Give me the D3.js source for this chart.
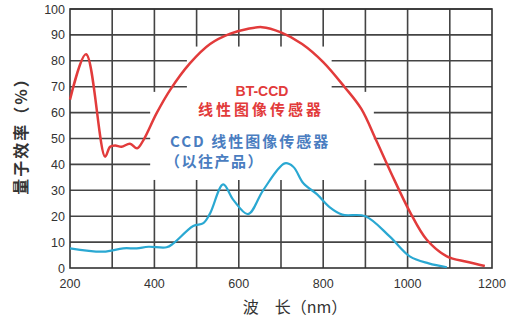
<!DOCTYPE html>
<html>
<head>
<meta charset="utf-8">
<script src="https://d3js.org/d3.v7.min.js"></script>
<style>
  body { margin: 0; background: #fff; }
  text { font-family: "Liberation Sans", Arial, sans-serif; }
</style>
</head>
<body>
<script>
// wavelength (nm) / quantum efficiency (%)
var btWave = [200, 238, 283, 295, 307, 322, 342, 359, 374, 405, 437, 484, 532, 580, 620, 655, 700, 750, 800, 850, 890, 925, 960, 1006, 1045, 1093, 1140, 1183];
var btQe   = [65, 82.5, 43, 46.8, 47.3, 46.8, 48, 46.2, 49.4, 59.7, 68.7, 79, 86.5, 90.5, 92.3, 93, 91, 86.5, 79.5, 70, 61.5, 49.5, 37, 21.5, 11, 4.5, 2.4, 0.8];

var ccdWave = [200, 279, 326, 358, 386, 429, 445, 492, 516, 532, 563, 587, 622, 658, 709, 729, 753, 785, 815, 845, 900, 958, 1006, 1050, 1093];
var ccdQe   = [7.6, 6.3, 7.6, 7.6, 8.2, 8.0, 9.5, 16.2, 17.3, 21.1, 32.3, 26.3, 20.8, 30.1, 40.4, 39.1, 32.7, 28.5, 23.5, 20.6, 20.0, 12.1, 4.4, 1.8, 0.3];

var xTicks = [200, 400, 600, 800, 1000, 1200];
var xGrid = [300, 400, 500, 600, 700, 800, 900, 1000, 1100];
var yTicks = [0, 10, 20, 30, 40, 50, 60, 70, 80, 90, 100];

var width = 518, height = 320;
var margin = {left: 70, right: 26, top: 9, bottom: 52};

var svg = d3.select('body').append('svg')
    .attr('width', width)
    .attr('height', height);

var x = d3.scaleLinear().domain([200, 1200]).range([margin.left, width - margin.right]);
var y = d3.scaleLinear().domain([0, 100]).range([height - margin.bottom, margin.top]);

var gridColor = '#444';

// grid
svg.append('g').selectAll('line.h')
    .data(yTicks.slice(1))
    .enter().append('line')
    .attr('x1', x(200)).attr('x2', x(1200))
    .attr('y1', function(d) { return y(d); })
    .attr('y2', function(d) { return y(d); })
    .attr('stroke', gridColor).attr('stroke-width', 1.6);

svg.append('g').selectAll('line.v')
    .data(xGrid)
    .enter().append('line')
    .attr('y1', y(0)).attr('y2', y(100))
    .attr('x1', function(d) { return x(d); })
    .attr('x2', function(d) { return x(d); })
    .attr('stroke', gridColor).attr('stroke-width', 1.6);

// white area behind the labels
var boxes = [[477, 820, 34, 85.5], [390, 920, 34, 68]];
svg.append('g').selectAll('rect')
    .data(boxes)
    .enter().append('rect')
    .attr('x', function(d) { return x(d[0]); })
    .attr('width', function(d) { return x(d[1]) - x(d[0]); })
    .attr('y', function(d) { return y(d[3]); })
    .attr('height', function(d) { return y(d[2]) - y(d[3]); })
    .attr('fill', '#fff');

// frame
svg.append('rect')
    .attr('x', x(200)).attr('y', y(100))
    .attr('width', x(1200) - x(200)).attr('height', y(0) - y(100))
    .attr('fill', 'none').attr('stroke', '#333').attr('stroke-width', 1.6);

// tick labels
svg.append('g').selectAll('text')
    .data(yTicks)
    .enter().append('text')
    .attr('x', x(200) - 5)
    .attr('y', function(d) { return y(d) + 4.5; })
    .attr('text-anchor', 'end')
    .attr('font-size', 12.5)
    .attr('fill', '#333')
    .text(function(d) { return d; });

svg.append('g').selectAll('text')
    .data(xTicks)
    .enter().append('text')
    .attr('x', function(d) { return x(d); })
    .attr('y', y(0) + 20)
    .attr('text-anchor', 'middle')
    .attr('font-size', 12.5)
    .attr('fill', '#333')
    .text(function(d) { return d; });

// curves
var line = d3.line()
    .x(function(d) { return x(d[0]); })
    .y(function(d) { return y(d[1]); })
    .curve(d3.curveCatmullRom.alpha(0.5));

svg.append('path')
    .attr('d', line(d3.zip(ccdWave, ccdQe)))
    .attr('fill', 'none').attr('stroke', '#2aa8d2').attr('stroke-width', 2.2);

svg.append('path')
    .attr('d', line(d3.zip(btWave, btQe)))
    .attr('fill', 'none').attr('stroke', '#e23b3b').attr('stroke-width', 2.5);

// labels
var cjk = '"Noto Sans CJK SC", sans-serif';
svg.append('text')
    .attr('x', 262).attr('y', 96)
    .attr('text-anchor', 'middle')
    .attr('font-size', 14).attr('font-weight', 'bold')
    .attr('fill', '#e23b3b')
    .text('BT-CCD');
svg.append('text')
    .attr('x', 261).attr('y', 115)
    .attr('text-anchor', 'middle')
    .style('font-family', cjk)
    .attr('font-size', 15).attr('font-weight', 'bold')
    .attr('letter-spacing', 3)
    .attr('fill', '#e23b3b')
    .text('线性图像传感器');
svg.append('text')
    .attr('x', 170).attr('y', 147)
    .style('font-family', cjk)
    .attr('font-size', 15).attr('font-weight', 'bold')
    .attr('letter-spacing', 2)
    .attr('fill', '#4a7dc0')
    .text('CCD 线性图像传感器');
svg.append('text')
    .attr('x', 165).attr('y', 167)
    .style('font-family', cjk)
    .attr('font-size', 15).attr('font-weight', 'bold')
    .attr('letter-spacing', 1.5)
    .attr('fill', '#4a7dc0')
    .text('（以往产品）');

// axis titles
svg.append('text')
    .attr('transform', 'translate(27,' + 132 + ') rotate(-90)')
    .attr('text-anchor', 'middle')
    .style('font-family', cjk)
    .attr('font-size', 16).attr('font-weight', 'bold')
    .attr('letter-spacing', 2)
    .attr('fill', '#333')
    .text('量子效率（%）');
svg.append('text')
    .attr('x', 295).attr('y', 313)
    .attr('text-anchor', 'middle')
    .style('font-family', cjk)
    .attr('font-size', 16)
    .attr('fill', '#333')
    .text('波　长（nm）');
</script>
</body>
</html>
